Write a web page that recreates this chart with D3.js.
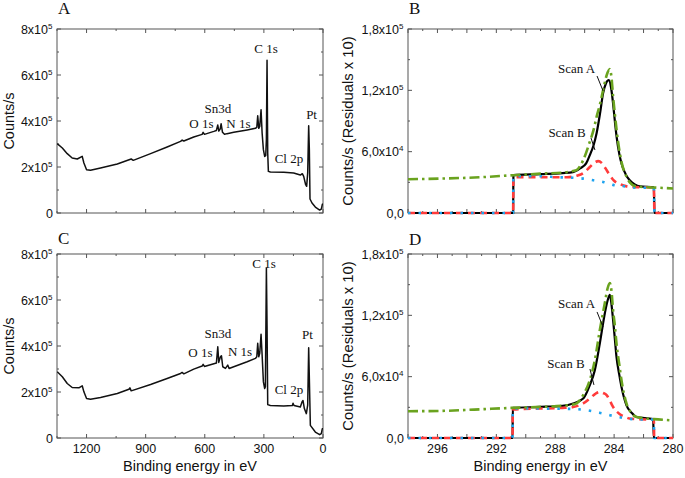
<!DOCTYPE html>
<html><head><meta charset="utf-8">
<script src="https://cdn.jsdelivr.net/npm/d3@7"></script>
<style>
html,body{margin:0;padding:0;background:#fff;}
svg{display:block;}
</style></head>
<body>
<svg id="chart" width="685" height="478"></svg>
<script>
// ---------------- DATA ----------------
// Survey spectrum A: binding energy (eV) and counts/s
const surveyA_E = [1349,1323,1298,1273,1247,1222,1213.5,1200,1180,1129,1044,973.5,963,875,791,723,715,706.5,656,613.5,608.4,601.7,554,541,534,529,522,517,510,500,487,453,385,343,336,331.3,326,321,314.4,309,302.5,296,290.7,287.3,284,280.6,277.2,267,199,149,115,105,98,88,83,77.7,72.7,69.3,65.9,55.8,38.9,16.9,8.5,3.4,0];
const surveyA_C = [301500,282600,258000,239100,234800,246400,217400,188400,185500,195700,213000,234800,229000,258000,287000,311600,317000,313000,330400,342000,350700,342000,355000,359000,382600,356500,365000,388000,351000,342000,345000,350700,361000,368000,372000,423000,368000,376800,449000,347800,275400,246000,249000,319000,663800,261000,181000,178000,176800,174000,165000,171000,159000,123000,116000,174000,379700,275000,60900,43500,26000,13000,17000,37700,40600];
// Survey spectrum C
const surveyC_E = [1349,1323,1298,1273,1239,1222,1213.5,1200,1180,1129,1044,985,980,973.5,875,791,723,715,706.5,656,613.5,608.4,601.7,554,541,534,529,520.6,515.5,508.7,495,483.4,476.6,453,385,343,336,331.3,326,321,314.4,309,302.5,296,292.4,287.3,284,280.6,267,199,155.5,152,147,115,106.5,101.4,94.6,84.5,77.7,72.7,69.3,64.2,38.9,16.9,8.5,3.4,0];
const surveyC_C = [288000,266000,237000,219600,218000,227000,200700,171600,168700,176000,193400,212000,218000,205000,232700,259000,280700,285000,279000,299600,312700,320000,311000,323000,325800,397000,328700,353000,357800,309800,302500,317000,302500,309800,331600,346000,353000,411600,353000,368000,451000,360700,244000,215000,222500,739000,491600,145000,141000,139600,141000,151000,141000,135000,157000,163000,128000,106000,142500,392700,259000,55000,26000,14500,19000,40700,37800];

// C 1s high resolution, panel B
const scanB_E_black = [298,290.86,290.84,289.0,287.5,286.8,286.32,285.9,285.65,285.4,285.19,284.95,284.75,284.55,284.36,284.2,284.07,283.95,283.83,283.65,283.5,283.2,282.94,282.6,282.26,281.3,281.26,280];
const scanB_C_black = [0,0,37000,38000,39000,40000,43600,48500,56600,66000,78000,98000,117000,127000,130000,122000,107000,90000,74600,58000,48500,37500,32000,28000,26000,25000,0,0];
const scanB_E_green = [298,295.8,293.5,290.8,289,287.5,286.8,286.55,286.1,285.65,285.4,285.19,284.95,284.75,284.5,284.29,284.18,284.07,283.95,283.83,283.65,283.5,283.2,282.94,282.5,281.3,280];
const scanB_C_green = [33000,33700,34700,37000,38500,39500,41000,42000,51700,69700,81000,94000,107000,120000,135000,140700,133000,114000,97000,81000,62000,50000,37000,30000,26000,25000,24000];
const scanB_E_red = [298,290.86,290.84,289,287.2,286.55,286.1,285.65,285.3,285.08,284.85,284.6,284.29,284.0,283.62,283.2,282.5,281.3,281.26,280];
const scanB_C_red = [0,0,35000,35000,35000,36500,39000,45000,49500,50700,49000,44000,37000,31500,28500,26300,25300,25000,0,0];
const scanB_E_blue = [298,290.86,290.84,289,287.9,286.8,286.0,285.4,284.75,284.07,283.16,282.9,281.3,281.26,280];
const scanB_C_blue = [0,0,36000,36000,35000,34500,33500,32000,30400,27500,25800,25000,24500,0,0];

// C 1s high resolution, panel D
const scanD_E_black = [298,290.9,290.88,289,287.5,286.78,286.1,285.65,285.31,284.97,284.63,284.45,284.29,284.18,284.07,283.95,283.84,283.65,283.5,283.16,282.8,282.48,281.35,281.3,280];
const scanD_C_black = [0,0,29500,30400,31500,33800,38600,51700,66400,92600,122000,134000,140000,131000,115500,97000,79500,62000,50000,32000,24500,20600,18500,0,0];
const scanD_E_green = [298,295.8,293.5,290.9,289,287.5,286.8,286.55,286.1,285.65,285.31,284.97,284.63,284.45,284.29,284.18,284.07,283.95,283.84,283.65,283.5,283.16,282.8,282.48,281.3,280.2];
const scanD_C_green = [26200,26500,27800,29500,30400,31500,32700,33800,42000,56600,76000,105700,132000,146000,151500,144000,125000,110000,92600,72000,56600,33800,24000,20600,18500,17400];
const scanD_E_red = [298,290.9,290.88,289,287.5,286.78,286.1,285.65,285.3,285.0,284.75,284.51,284.29,284.07,283.61,283.2,282.94,282.3,281.3,281.28,280];
const scanD_C_red = [0,0,28000,28800,29500,30400,33800,38600,43000,45000,44000,42000,36500,30400,23300,20300,19000,18300,18000,0,0];
const scanD_E_blue = [298,290.9,290.88,289.03,287,285.87,285.0,284.29,283.6,283.16,282.5,281.3,281.28,280];
const scanD_C_blue = [0,0,28800,28800,28500,27200,24800,22300,20300,19000,18300,18000,0,0];

// Axis ticks and labels
const surveyXTicks = [1200,900,600,300,0];
const surveyXMinor = [1350,1050,750,450,150];
const surveyYTicks = [0,200000,400000,600000,800000];
const surveyYMinor = [100000,300000,500000,700000];
const surveyYText = ["0","2x10","4x10","6x10","8x10"];
const surveyYExp = ["","5","5","5","5"];
const hrXTicks = [296,292,288,284,280];
const hrXMid = [298,294,290,286,282];
const hrXMinor = [297,295,293,291,289,287,285,283,281];
const hrYTicks = [0,60000,120000,180000];
const hrYMinor = [30000,90000,150000];
const hrYText = ["0,0","6,0x10","1,2x10","1,8x10"];
const hrYExp = ["","4","5","5"];

// Peak annotations (text, energy, counts)
const peaksA = [["C 1s",289,696000],["Sn3d",533,435000],["O 1s",617,370000],["N 1s",429,370000],["Cl 2p",173,217000],["Pt",58,409000]];
const peaksC = [["C 1s",299,739000],["Sn3d",533,435000],["O 1s",622,352000],["N 1s",421,356000],["Cl 2p",173,191000],["Pt",79,430000]];
// Scan labels: text, energy, counts, leader start (E,C), leader end (E,C)
const scanLabelsB = [["Scan A",286.55,137000,285.16,134000,284.75,119400],["Scan B",287.2,74300,285.57,73400,285.3,61600]];
const scanLabelsD = [["Scan A",286.55,127200,285.16,123300,284.75,108600],["Scan B",287.27,68500,285.64,67500,285.37,51900]];

// ---------------- DRAWING ----------------
const svg = d3.select("#chart");
const AX = "#555";
const SANS = "Liberation Sans, Arial, Helvetica, sans-serif";
const SERIF = "Liberation Serif, Times New Roman, serif";

function drawPanel(o){
  const g = svg.append("g");
  const x = d3.scaleLinear().domain(o.xDomain).range([o.x0,o.x1]);
  const y = d3.scaleLinear().domain(o.yDomain).range([o.y1,o.y0]);
  // frame
  g.append("rect").attr("x",o.x0).attr("y",o.y0).attr("width",o.x1-o.x0).attr("height",o.y1-o.y0)
    .attr("fill","none").attr("stroke",AX).attr("stroke-width",1);
  // ticks (inside, mirrored)
  const tk = (vals,len,isX)=>{
    vals.forEach(v=>{
      if(isX){
        const px = x(v);
        g.append("line").attr("x1",px).attr("x2",px).attr("y1",o.y1).attr("y2",o.y1-len).attr("stroke",AX);
        g.append("line").attr("x1",px).attr("x2",px).attr("y1",o.y0).attr("y2",o.y0+len).attr("stroke",AX);
      } else {
        const py = y(v);
        g.append("line").attr("x1",o.x0).attr("x2",o.x0+len).attr("y1",py).attr("y2",py).attr("stroke",AX);
        g.append("line").attr("x1",o.x1).attr("x2",o.x1-len).attr("y1",py).attr("y2",py).attr("stroke",AX);
      }
    });
  };
  tk(o.xTicks,4,true); tk(o.xMid||[],4,true); tk(o.xMinor,2,true);
  tk(o.yTicks,4,false); tk(o.yMinor,2,false);
  // y tick labels
  o.yTicks.forEach((v,i)=>{
    const t = g.append("text").attr("x",o.x0-(o.exp[i]?9:4)).attr("y",y(v)+4.5)
      .attr("text-anchor","end").attr("font-family",SANS).attr("font-size",12.5).attr("fill","#111")
      .text(o.yText[i]);
    if(o.exp[i]){
      g.append("text").attr("x",o.x0-9).attr("y",y(v)-0.5).attr("text-anchor","start")
        .attr("font-family",SANS).attr("font-size",8).attr("fill","#111").text(o.exp[i]);
    }
  });
  // x tick labels
  if(o.xLabels){
    o.xTicks.forEach(v=>{
      g.append("text").attr("x",x(v)).attr("y",o.y1+14.5).attr("text-anchor","middle")
        .attr("font-family",SANS).attr("font-size",12.5).attr("fill","#111").text(d3.format("d")(v));
    });
    g.append("text").attr("x",(o.x0+o.x1)/2).attr("y",o.y1+33).attr("text-anchor","middle")
      .attr("font-family",SANS).attr("font-size",14.5).attr("fill","#111").text("Binding energy in eV");
  }
  // y title
  g.append("text").attr("transform",`translate(${o.yTitleX},${(o.y0+o.y1)/2}) rotate(-90)`)
    .attr("text-anchor","middle").attr("font-family",SANS).attr("font-size",o.yTitleSize).attr("fill","#111").text(o.yTitle);
  // panel letter
  g.append("text").attr("x",o.x0+1).attr("y",o.y0-(o.letterOff||15)).attr("font-family",SERIF).attr("font-size",17).attr("fill","#111").text(o.letter);
  return {g,x,y};
}

function seriesLine(g,x,y,E,C,style,curve){
  const pts = E.map((e,i)=>[e,C[i]]);
  const line = d3.line().x(d=>x(d[0])).y(d=>y(d[1])).curve(curve||d3.curveLinear);
  const p = g.append("path").attr("d",line(pts)).attr("fill","none");
  Object.entries(style).forEach(([k,v])=>p.attr(k,v));
  return p;
}

function survey(o,E,C,peaks){
  const {g,x,y} = drawPanel(Object.assign({
    xDomain:[1350,0], yDomain:[0,800000], xTicks:surveyXTicks, xMinor:surveyXMinor,
    yTicks:surveyYTicks, yMinor:surveyYMinor, yText:surveyYText, exp:surveyYExp,
    yTitle:"Counts/s", yTitleX:14, yTitleSize:14.5}, o));
  const clipId = "clip"+o.letter;
  svg.append("clipPath").attr("id",clipId).append("rect").attr("x",o.x0).attr("y",o.y0).attr("width",o.x1-o.x0).attr("height",o.y1-o.y0);
  seriesLine(g,x,y,E,C,{stroke:"#111","stroke-width":1.5,"stroke-linejoin":"round","clip-path":`url(#${clipId})`});
  peaks.forEach(p=>{
    g.append("text").attr("x",x(p[1])).attr("y",y(p[2])).attr("text-anchor","middle")
      .attr("font-family",SERIF).attr("font-size",13).attr("fill","#111").text(p[0]);
  });
}

function hires(o,S,labels){
  const {g,x,y} = drawPanel(Object.assign({
    xDomain:[298,280], yDomain:[0,180000], xTicks:hrXTicks, xMid:hrXMid, xMinor:hrXMinor,
    yTicks:hrYTicks, yMinor:hrYMinor, yText:hrYText, exp:hrYExp,
    yTitle:"Counts/s (Residuals x 10)", yTitleX:353, yTitleSize:14.8}, o));
  const cv = d3.curveMonotoneX;
  seriesLine(g,x,y,S.bE,S.bC,{stroke:"#000","stroke-width":2.2},cv);
  seriesLine(g,x,y,S.rE,S.rC,{stroke:"#ff3b3b","stroke-width":2.6,"stroke-dasharray":"7,5"},cv);
  seriesLine(g,x,y,S.uE,S.uC,{stroke:"#1ea3ef","stroke-width":2.6,"stroke-dasharray":"2.5,8"},cv);
  seriesLine(g,x,y,S.gE,S.gC,{stroke:"#6aa31f","stroke-width":2.6,"stroke-dasharray":"10,4,2.5,4"},cv);
  labels.forEach(l=>{
    g.append("text").attr("x",x(l[1])).attr("y",y(l[2])).attr("text-anchor","middle")
      .attr("font-family",SERIF).attr("font-size",13).attr("fill","#111").text(l[0]);
    g.append("line").attr("x1",x(l[3])).attr("y1",y(l[4])).attr("x2",x(l[5])).attr("y2",y(l[6]))
      .attr("stroke","#111").attr("stroke-width",1);
  });
}

survey({x0:57,x1:323,y0:29,y1:213,letter:"A",xLabels:false},surveyA_E,surveyA_C,peaksA);
survey({x0:57,x1:323,y0:254,y1:438,letter:"C",xLabels:true,letterOff:10},surveyC_E,surveyC_C,peaksC);
hires({x0:408,x1:673,y0:29,y1:213,letter:"B",xLabels:false},
  {bE:scanB_E_black,bC:scanB_C_black,gE:scanB_E_green,gC:scanB_C_green,rE:scanB_E_red,rC:scanB_C_red,uE:scanB_E_blue,uC:scanB_C_blue},scanLabelsB);
hires({x0:408,x1:673,y0:254,y1:438,letter:"D",xLabels:true,letterOff:9},
  {bE:scanD_E_black,bC:scanD_C_black,gE:scanD_E_green,gC:scanD_C_green,rE:scanD_E_red,rC:scanD_C_red,uE:scanD_E_blue,uC:scanD_C_blue},scanLabelsD);
</script>
</body></html>
